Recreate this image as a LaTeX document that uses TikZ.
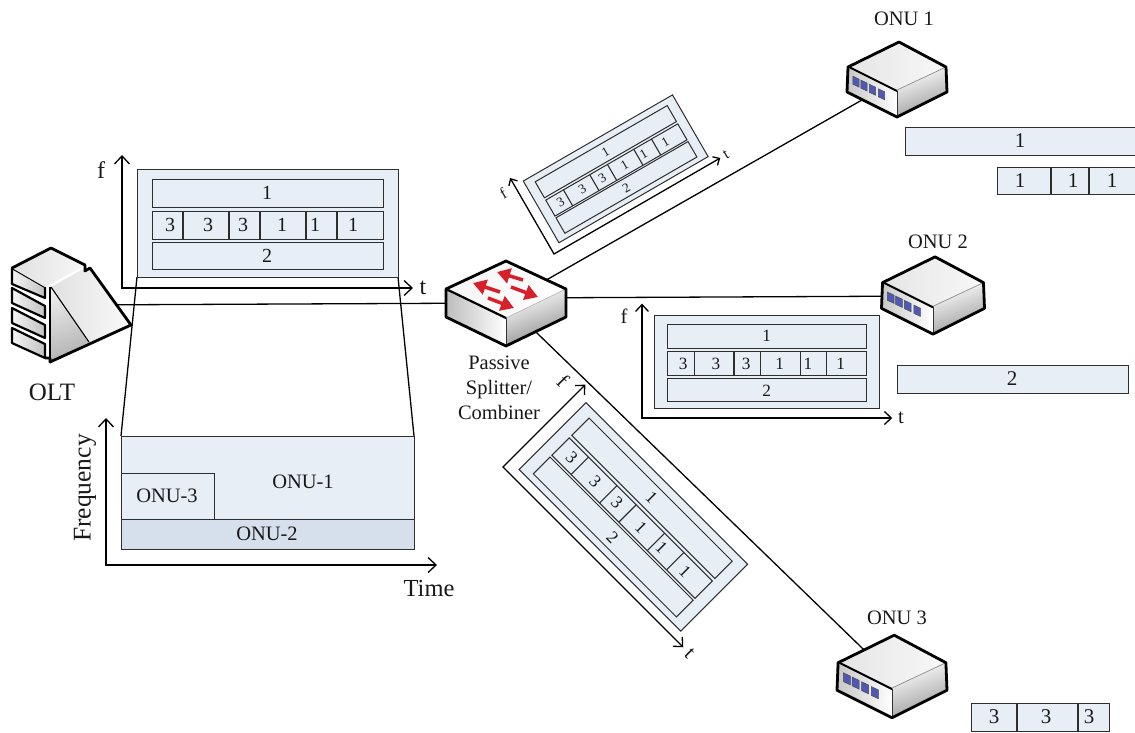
\documentclass[tikz,border=0pt]{standalone}
\usepackage{fontspec}
\setmainfont{Liberation Serif}
\usetikzlibrary{arrows.meta}
\definecolor{paneblue}{HTML}{E8EEF6}
\definecolor{deepblue}{HTML}{D5E0EC}
\definecolor{inkline}{HTML}{2E2E2E}
\definecolor{portblue}{HTML}{4F58B4}
\definecolor{redarrow}{HTML}{D8202A}
\tikzset{
  wire/.style={draw=black,line width=1.3pt},
  devbox/.style={inner sep=0pt,outer sep=0pt},
  thinbox/.style={draw=inkline,line width=1pt,fill=paneblue},
  axisline/.style={draw=black,line width=1.3pt},
  lab/.style={inner sep=0pt,text=black!90},
  devedge/.style={draw=black,line width=2.8pt,line join=round},
  devthin/.style={draw=black!80,line width=.7pt},
  blockedge/.style={draw=black,line width=2.2pt,line join=round},
}
\newcommand{\fsz}[1]{\fontsize{#1}{#1}\selectfont}
% panel: prefix, origin x, origin y, angle, scale
\newcommand{\panel}[5]{%
  \pgfmathsetmacro{\fs}{20*#5}%
  \pgfmathsetmacro{\fsb}{24*#5}%
  \pgfmathsetmacro{\tipl}{8*#5}%
  \pgfmathsetmacro{\tipw}{15*#5}%
  \begin{scope}[shift={(#2,#3)},rotate=#4,scale=#5]
    \draw[thinbox] (15,-119) rectangle (276,-11);
    \draw[thinbox] (30,-109) rectangle (261,-81);
    \draw[thinbox] (30,-77) rectangle (261,-49);
    \draw[thinbox] (30,-46) rectangle (261,-19);
    \foreach \dx in {61,107,138,184,215}{\draw[inkline,line width=1.1pt] (\dx,-77) -- (\dx,-49);}
    \draw[axisline,{Straight Barb[length=\tipl pt,width=\tipw pt]}-{Straight Barb[length=\tipl pt,width=\tipw pt]}] (0,-133) -- (0,0) -- (291,0);
    \tikzset{every node/.style={lab,rotate=#4,font=\fsz{\fs}}}
    \node (#1r1) at (145,-95) {1};
    \node (#1a) at (48,-63) {3};
    \node (#1b) at (86,-63) {3};
    \node (#1c) at (121,-63) {3};
    \node (#1d) at (160,-63) {1};
    \node (#1e) at (193,-63) {1};
    \node (#1f) at (231,-63) {1};
    \node (#1r3) at (145,-32) {2};
    \node[font=\fsz{\fsb}] (#1fl) at (-21,-118) {f};
    \node[font=\fsz{\fsb}] (#1tl) at (301,0) {t};
  \end{scope}}
% ONU device: centre x, y, scale
\newcommand{\onudev}[3]{%
  \begin{scope}[shift={(#1,#2)},scale=#3]
    \shade[left color=black!10,right color=black!3] (2,-38) -- (49,-13) -- (0,10) -- (-49,-13) -- cycle;
    \shade[left color=black!22,right color=white] (-49,-13) -- (0,10) -- (0,37) -- (-50,12) -- cycle;
    \shade[left color=black!40,right color=white,shading angle=200] (0,10) -- (49,-13) -- (50,12) -- (0,37) -- cycle;
    \draw[draw=black!45,line width=.7pt] (0,10) -- (49,-13);
    \draw[draw=black,line width=2pt] (-48,-13) -- (0,11);
    \draw[devthin] (0,11) -- (0,37);
    \foreach \px/\py in {-41/1.7,-33/5.6,-24.5/9.8,-15.5/14.3}{
      \draw[fill=portblue,draw=black!70,line width=.5pt] (\px-3.2,\py-5.5) -- (\px+3.2,\py-2.5) -- (\px+3.2,\py+5.5) -- (\px-3.2,\py+2.5) -- cycle;}
    \draw[devedge] (2,-38) -- (49,-13) -- (50,12) -- (0,37) -- (-50,12) -- (-49,-13) -- cycle;
  \end{scope}}
\begin{document}
\begin{tikzpicture}[x=1pt,y=-1pt]
\useasboundingbox (0,0) rectangle (1135,732);
% invisible device nodes
\node[devbox,minimum width=119pt,minimum height=115pt] (olt) at (70,305) {};
\node[devbox,minimum width=120pt,minimum height=85pt] (splitter) at (506,303) {};
\node[devbox,minimum width=100pt,minimum height=75pt] (onu1) at (897,80) {};
\node[devbox,minimum width=103pt,minimum height=78pt] (onu2) at (933,296) {};
\node[devbox,minimum width=110pt,minimum height=83pt] (onu3) at (892,677) {};
% connectors
\draw[wire] (olt.center) -- (splitter.center);
\draw[wire] (splitter.center) -- (onu1.center);
\draw[wire] ([yshift=5pt]splitter.center) -- (onu2.center);
\draw[wire] (splitter.center) -- (onu3.center);
% trapezoid + bottom chart
\coordinate (pl) at (137,277);
\coordinate (pr) at (398,277);
\coordinate (bl) at (121,436);
\coordinate (br) at (414,436);
\draw[wire] (pl) -- (bl);
\draw[wire] (pr) -- (br);
\draw[thinbox] (121,436) rectangle (414,519);
\draw[thinbox,fill=deepblue] (121,519) rectangle (414,549);
\draw[thinbox] (121,473) rectangle (214,519);
\draw[axisline,{Straight Barb[length=8pt,width=15pt]}-{Straight Barb[length=8pt,width=15pt]}] (106,418) -- (106,565) -- (437,565);
\node[lab,font=\fsz{20.5}] (onu1t) at (303,482) {ONU-1};
\node[lab,font=\fsz{20.5}] (onu3t) at (167,496) {ONU-3};
\node[lab,font=\fsz{20.5}] (onu2t) at (267,534) {ONU-2};
\node[lab,font=\fsz{25.5},rotate=90] (freq) at (85,488) {Frequency};
\node[lab,font=\fsz{24.5}] (timel) at (429,588) {Time};
% panels
\panel{pa}{122}{288}{0}{1}
\panel{pb}{642}{418}{0}{0.86}
\panel{pc}{554}{254}{30}{0.66}
\panel{pd}{503}{467}{-45}{0.876}
% right strips
\fill[paneblue] (905,127) rectangle (1135,155);
\draw[inkline,line width=1pt] (1135,127) -- (905,127) -- (905,155) -- (1135,155);
\node[lab,font=\fsz{21}] (s1) at (1020,141) {1};
\fill[paneblue] (997,167) rectangle (1135,194);
\draw[inkline,line width=1pt] (1135,167) -- (997,167) -- (997,194) -- (1135,194);
\draw[inkline,line width=1.1pt] (1051,167) -- (1051,194);
\draw[inkline,line width=1.1pt] (1089,167) -- (1089,194);
\node[lab,font=\fsz{21}] (s2) at (1020,181) {1};
\node[lab,font=\fsz{21}] (s3) at (1073,181) {1};
\node[lab,font=\fsz{21}] (s4) at (1112,181) {1};
\draw[thinbox] (897,365) rectangle (1128,393);
\node[lab,font=\fsz{21}] (s5) at (1012,379) {2};
\draw[thinbox] (971,703) rectangle (1109,731);
\draw[inkline,line width=1.1pt] (1017,703) -- (1017,731);
\draw[inkline,line width=1.1pt] (1078,703) -- (1078,731);
\node[lab,font=\fsz{21}] (s6) at (994,717) {3};
\node[lab,font=\fsz{21}] (s7) at (1046,717) {3};
\node[lab,font=\fsz{21}] (s8) at (1089,717) {3};
% OLT device
\begin{scope}
  \fill[white] (12,268) -- (51,248) -- (85,265) -- (131,325) -- (50,362) -- (45,358) -- (12,342) -- cycle;
  \shade[left color=black!4,right color=black!24] (12,268) -- (45,287) -- (45,298) -- (12,284) -- cycle;
  \shade[left color=black!4,right color=black!24] (12,288) -- (45,306) -- (45,318) -- (12,303) -- cycle;
  \shade[left color=black!4,right color=black!24] (12,308) -- (45,325) -- (45,338) -- (12,323) -- cycle;
  \shade[left color=black!4,right color=black!24] (12,328) -- (45,344) -- (45,358) -- (12,343) -- cycle;
  \draw[blockedge] (12,268) -- (45,287) -- (45,298) -- (12,284) -- cycle;
  \draw[blockedge] (12,288) -- (45,306) -- (45,318) -- (12,303) -- cycle;
  \draw[blockedge] (12,308) -- (45,325) -- (45,338) -- (12,323) -- cycle;
  \draw[blockedge] (12,328) -- (45,344) -- (45,358) -- (12,343) -- cycle;
  \shade[left color=black!12,right color=black!3] (12,268) -- (51,248) -- (85,265) -- (51,284) -- (45,287) -- cycle;
  \shade[left color=black!12,right color=black!2] (51,287) -- (85,268) -- (90,268) -- (131,325) -- (89,342) -- cycle;
  \shade[left color=black!8,right color=black!30,shading angle=20] (51,287) -- (89,342) -- (50,362) -- cycle;
  \draw[black,line width=1.1pt] (51,287) -- (89,342);
  \draw[black,line width=1.5pt] (50,287) -- (50,360);
  \draw[devedge] (45,358) -- (50,358) -- (50,362) -- (131,325) -- (90,268) -- (85,271) -- (85,265) -- (51,248) -- (12,268);
\end{scope}
% splitter device
\begin{scope}
  \shade[left color=black!4,right color=white] (506,261) -- (566,289) -- (506,318) -- (446,289) -- cycle;
  \shade[left color=black!26,right color=white] (446,289) -- (506,318) -- (506,346) -- (446,317) -- cycle;
  \shade[left color=black!45,right color=white,shading angle=200] (506,318) -- (566,289) -- (566,317) -- (506,346) -- cycle;
  \draw[devthin] (506,318) -- (506,346);
  \draw[draw=black!30,line width=.6pt] (506,318) -- (566,289);
  \draw[devedge] (506,261) -- (566,289) -- (566,317) -- (506,346) -- (446,317) -- (446,289) -- cycle;
  \draw[draw=black,line width=2.2pt] (446,289) -- (506,318);
  \foreach \tx/\ty/\hx/\hy in {523/280/497/272, 500/292/473/283, 511/287/538/297, 488/298/514/308}{
    \draw[redarrow,line width=3.5pt,-{Triangle[length=13pt,width=15pt]}] (\tx,\ty) -- (\hx,\hy);}
\end{scope}
\onudev{897}{80}{1}
\onudev{933}{296}{1.03}
\onudev{892}{677}{1.1}
% labels
\node[lab,font=\fsz{25}] (oltl) at (52,392) {OLT};
\node[lab,font=\fontsize{20.5}{25}\selectfont,align=center] (splitl) at (499,388) {Passive\\Splitter/\\Combiner};
\node[lab,font=\fsz{20.5}] (onu1l) at (904,19) {ONU 1};
\node[lab,font=\fsz{20.5}] (onu2l) at (938,242) {ONU 2};
\node[lab,font=\fsz{20.5}] (onu3l) at (897,618) {ONU 3};
\end{tikzpicture}
\end{document}
